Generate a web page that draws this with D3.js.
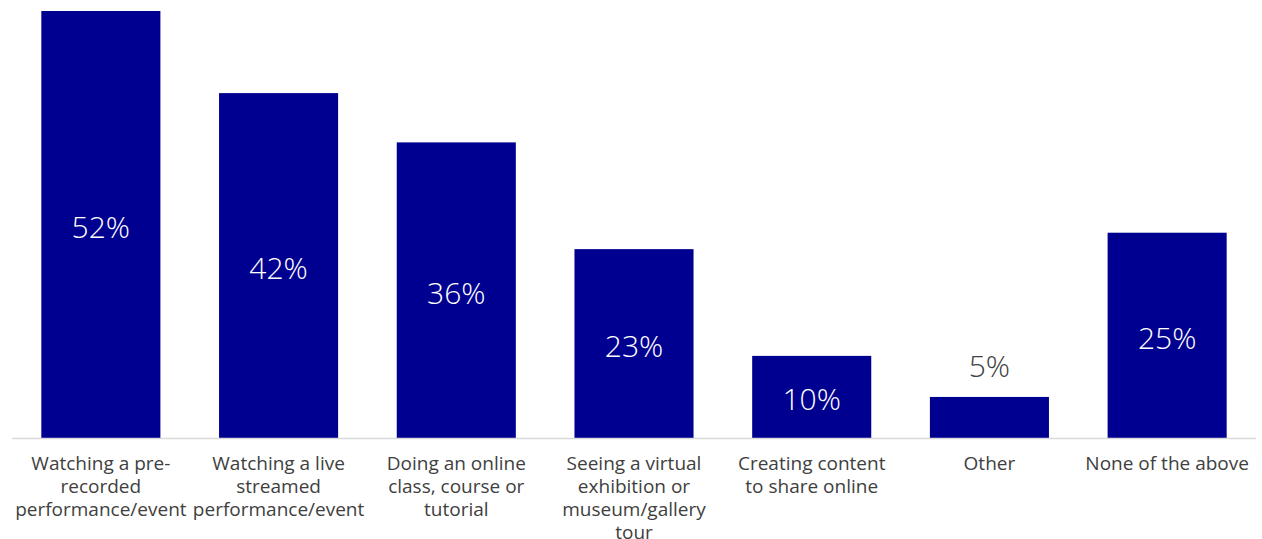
<!DOCTYPE html>
<html>
<head>
<meta charset="utf-8">
<script src="https://cdn.jsdelivr.net/npm/d3@7"></script>
<style>
  html, body { margin: 0; padding: 0; background: #ffffff; }
  svg { display: block; }
  .cat { font-family: "Open Sans", "Noto Sans", sans-serif; font-size: 19px; fill: #404040; }
  .val { font-family: "Open Sans", "Noto Sans", sans-serif; font-size: 30px; font-weight: 300; }
</style>
</head>
<body>
<svg id="chart" width="1262" height="539"></svg>
<script>
// Online cultural activities — share of respondents
const categories = [
  "Watching a pre-\nrecorded\nperformance/event",
  "Watching a live\nstreamed\nperformance/event",
  "Doing an online\nclass, course or\ntutorial",
  "Seeing a virtual\nexhibition or\nmuseum/gallery\ntour",
  "Creating content\nto share online",
  "Other",
  "None of the above"
];
const values = [52, 42, 36, 23, 10, 5, 25];

const W = 1262, H = 539;
const margin = { left: 12, right: 6, top: 11, bottom: 101 };
const svg = d3.select("#chart");

const data = categories.map((c, i) => ({ cat: c, value: values[i] }));

const x = d3.scaleBand()
  .domain(categories)
  .range([margin.left, W - margin.right])
  .paddingInner(0.33)
  .paddingOuter(0.165);

const y = d3.scaleLinear()
  .domain([0, d3.max(values)])
  .range([H - margin.bottom, margin.top]);

const baseY = y(0);

// Bars
svg.append("g")
  .selectAll("rect")
  .data(data)
  .join("rect")
  .attr("x", d => x(d.cat))
  .attr("y", d => y(d.value))
  .attr("width", x.bandwidth())
  .attr("height", d => baseY - y(d.value))
  .attr("fill", "#000090");

// Baseline axis
const axis = svg.append("g")
  .attr("transform", `translate(0,${baseY})`)
  .call(d3.axisBottom(x).tickSize(0).tickFormat(""));
axis.select(".domain").attr("stroke", "#d9d9d9").attr("stroke-width", 1.5)
  .attr("d", `M${margin.left},0.5H${W - margin.right}`);

// Category labels (multi-line)
const labels = svg.append("g")
  .selectAll("text")
  .data(data)
  .join("text")
  .attr("class", "cat")
  .attr("text-anchor", "middle")
  .attr("x", d => x(d.cat) + x.bandwidth() / 2)
  .attr("y", baseY + 32);
labels.each(function(d) {
  const t = d3.select(this);
  d.cat.split("\n").forEach((line, i) => {
    t.append("tspan")
      .attr("x", x(d.cat) + x.bandwidth() / 2)
      .attr("dy", i === 0 ? 0 : 23)
      .text(line);
  });
});

// Value labels: centred in the bar, or above it when the bar is too short
svg.append("g")
  .selectAll("text")
  .data(data)
  .join("text")
  .attr("class", "val")
  .attr("text-anchor", "middle")
  .attr("dominant-baseline", "central")
  .attr("x", d => x(d.cat) + x.bandwidth() / 2)
  .attr("y", d => {
    const h = baseY - y(d.value);
    return h > 60 ? y(d.value) + h / 2 + 2 : y(d.value) - 31;
  })
  .attr("fill", d => (baseY - y(d.value)) > 60 ? "#ffffff" : "#404040")
  .text(d => d.value + "%");
</script>
</body>
</html>
